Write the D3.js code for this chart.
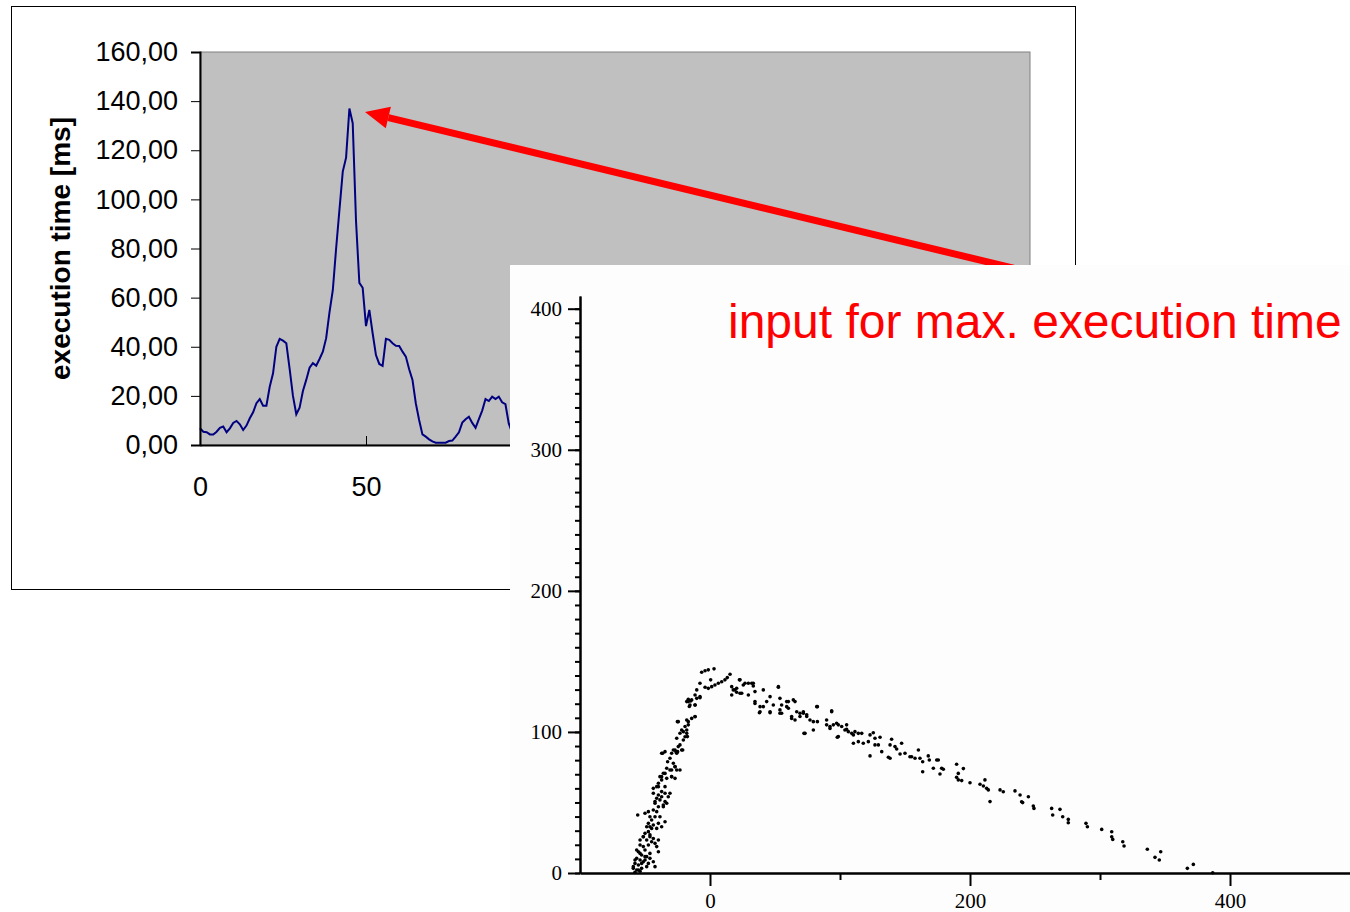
<!DOCTYPE html>
<html>
<head>
<meta charset="utf-8">
<script src="https://cdn.jsdelivr.net/npm/d3@7"></script>
<style>
  body { margin: 0; background: #fff; }
  svg { display: block; }
</style>
</head>
<body>
<div id="chart"></div>
<script>
// back chart: execution time per run (index = run number)
var execTime = [6.8, 5.4, 5.2, 4.3, 4.3, 5.4, 7, 7.5, 5.2, 6.8,
    9, 9.8, 8.4, 6.1, 7.9, 10.9, 13.3, 17, 18.7, 16,
    16, 23.7, 29.2, 40, 43.2, 42.5, 41.4, 31, 20, 12.5,
    15.2, 22, 26.5, 31.5, 33.3, 32.3, 35, 38, 43.5, 54,
    63, 80, 95.7, 111.3, 117, 137, 131, 91, 66, 64,
    48.4, 55, 45.5, 36.6, 33, 32.2, 43.2, 42.8, 41.4, 40.4,
    40.3, 38, 36, 30.8, 26.5, 17, 10.2, 4.3, 3.4, 2.3,
    1.5, 0.95, 0.95, 0.95, 0.95, 1.6, 1.8, 3.4, 5.2, 9.1,
    10.5, 11.5, 9, 7, 10.5, 14, 18.7, 17.9, 19.7, 18.7,
    19.7, 17.4, 16.6, 8.8, 5];
var timeTicks = [0, 20, 40, 60, 80, 100, 120, 140, 160];
var runTicks = [0, 50, 100, 150, 200, 250];

// scatter: [input, execution time]
var inputPoints = [
  [-26.9,87.2],[-24.9,86.0],[-29.5,84.9],[-34.6,86.0],[-37.2,84.9],[-30.8,81.3],[-32.6,78.9],[-28.2,77.8],[-26.9,75.4],[-25.6,73.0],
  [-29.5,73.0],[-33.3,74.2],[-35.9,70.7],[-38.5,68.3],[-37.2,66.0],[-33.3,67.1],[-29.5,68.3],[-26.9,67.1],[-39.7,63.6],[-41.0,61.2],
  [-43.6,60.0],[-34.6,61.2],[-37.2,57.7],[-39.7,55.3],[-41.0,53.0],[-38.5,51.8],[-34.6,50.6],[-35.9,48.2],[-42.3,49.4],[-39.7,47.0],
  [-43.6,44.7],[-41.0,43.5],[-47.4,43.5],[-50.0,42.3],[-55.6,41.1],[-46.2,39.9],[-42.3,39.9],[-44.9,37.6],[-47.4,35.2],[-39.7,35.2],
  [-48.7,32.8],[-44.9,31.6],[-47.4,29.3],[-50.0,28.1],[-46.2,27.0],[-51.3,25.7],[-48.7,23.4],[-44.9,22.2],[-42.3,21.0],[-53.8,19.9],
  [-51.3,18.7],[-47.4,19.9],[-50.0,16.3],[-55.1,15.1],[-46.2,13.9],[-52.6,12.8],[-48.7,11.6],[-56.4,10.4],[-53.8,9.2],[-51.3,8.0],
  [-47.4,6.8],[-57.7,6.8],[-55.1,5.7],[-52.6,3.3],[-59.0,3.3],[-56.4,2.1],[-53.8,1.3],[-57.7,0.5],[-50.0,9.2],
  [-6.4,142.3],[-3.8,143.4],[-1.3,144.0],[3.1,144.7],[-7.7,134.5],[0.5,136.9],[-3.8,131.7],[-1.3,130.9],[1.3,132.1],[3.8,133.3],
  [6.4,134.5],[9.0,135.6],[11.5,136.9],[13.3,138.5],[15.4,140.9],[-10.2,129.8],[-11.5,126.2],[-7.7,124.3],[-16.7,123.2],[-14.9,122.0],
  [-17.9,121.5],[-15.9,118.0],[-11.5,119.1],[-11.5,110.9],[-17.9,108.5],[-16.7,105.0],[-19.2,103.8],[-21.8,101.4],[-23.1,99.1],[-20.5,100.2],
  [-17.4,96.7],[-25.1,107.3],[-25.6,95.5],[-23.1,90.8],[-28.2,87.2],[-26.2,86.0],[-21.0,87.2],[-36.4,84.9],[16.7,132.1],[19.2,129.8],
  [16.7,126.2],[20.5,128.1],[22.6,136.9],
  [23.1,136.9],[20.5,131.0],[25.6,133.3],[29.5,134.5],[33.3,134.5],[23.1,127.4],[29.5,126.2],[34.6,128.6],[41.0,129.8],[52.6,131.7],
  [34.6,121.5],[38.5,117.9],[38.0,113.6],[43.6,121.5],[46.2,125.0],[48.7,119.1],[53.8,123.8],[55.1,119.1],[46.2,114.3],[53.8,113.2],
  [59.0,121.5],[60.3,116.8],[62.8,110.9],[65.4,121.5],[66.7,114.3],[69.2,110.9],[71.8,114.3],[74.4,110.9],[76.9,108.5],[79.5,107.3],
  [82.1,117.9],[72.3,99.0],[79.5,101.4],[89.7,108.5],[93.6,115.0],[92.3,103.8],[94.9,105.0],[98.7,105.0],[98.7,96.7],[101.3,103.8],
  [105.1,101.8],
  [26.9,134.5],[32.1,134.5],[33.3,132.6],[17.9,129.8],[24.4,127.4],[52.6,132.1],[34.6,120.2],[38.5,114.3],[41.0,117.9],[46.2,113.6],
  [53.8,115.6],[55.1,113.2],[59.0,117.9],[60.3,121.5],[64.1,122.7],[62.8,109.6],[65.4,108.5],[69.2,113.2],[71.8,113.2],[74.4,112.1],
  [82.6,107.3],[82.6,117.9],[73.1,99.0],[89.7,105.0],[92.3,102.5],[97.4,106.1],[109.0,99.0],[114.1,99.0],[93.6,114.3],[97.9,96.2],
  [105.1,105.0],[103.8,101.4],[106.4,100.2],[111.5,100.2],[110.3,97.9],[110.3,92.0],[114.1,93.1],[117.9,92.0],[121.8,93.1],[116.7,99.0],
  [123.1,97.9],[125.6,99.4],[123.1,83.0],[126.9,95.5],[126.9,90.8],[129.5,90.8],[130.8,96.2],[132.1,86.0],[137.2,82.1],[138.5,81.3],
  [138.5,90.8],[139.7,94.8],[142.3,89.6],[143.6,87.9],[146.2,84.4],[147.4,92.0],[150.0,84.9],[153.8,82.4],[155.1,82.4],[157.7,81.3],
  [160.3,87.2],[161.5,81.3],[163.6,78.9],[163.6,71.8],[167.9,83.0],[168.7,80.1],[171.8,74.2],[174.4,80.1],[175.6,80.1],[176.9,70.2],
  [178.2,74.2],[179.5,73.5],[189.7,77.1],[191.0,70.6],[189.7,67.8],[191.0,66.0],[193.6,65.5],[194.9,74.0],[200.0,64.0],[207.7,62.9],
  [210.3,61.7],[211.5,66.0],[212.8,60.0],[214.1,58.9],[215.4,50.6],[223.1,58.9],[225.6,57.6],[234.6,58.2],[238.5,55.3],[240.5,49.9],
  [239.7,50.5],[244.9,54.0],[248.7,47.5],[249.2,45.8],[262.8,45.8],[263.6,41.1],[269.2,45.1],[271.3,39.9],[275.6,38.0],[275.6,35.6],
  [289.2,35.2],[290.3,32.8],[301.3,30.9],[309.0,29.2],[309.0,25.7],[309.8,23.8],[317.5,22.2],[318.5,19.1],[336.4,16.8],[342.3,11.1],
  [345.6,9.2],[346.7,15.1],[367.2,3.3],[371.8,6.1],[386.7,0.2],
  [-53.8,23.4],[-51.3,25.7],[-46.2,25.7],[-43.6,24.5],[-39.7,23.4],[-41.0,18.7],[-39.7,15.1],[-56.4,16.3],[-53.8,13.9],[-50.0,11.6],
  [-46.2,10.4],[-43.6,8.0],[-52.6,6.8],[-48.7,4.5],[-57.7,9.2],[-59.0,4.5],[-55.1,2.1],[-42.3,4.5],[-46.2,32.8],[-43.6,34.0],
  [-41.0,31.6],[-37.2,32.8],[-34.6,36.3],[-38.5,39.9],[-35.9,47.0],[-33.3,49.4],[-32.1,54.1],[-37.2,54.1],[-34.6,56.5],[-30.8,56.5],
  [-39.7,61.2],[-43.6,56.5],[-42.3,50.6],[-37.2,68.3],[-34.6,70.6],[-30.8,73.0],[-26.9,75.3],[-23.1,73.0],[-29.5,68.3],[-25.6,84.9],
  [-21.8,87.2],[-24.4,89.6],[-20.5,94.3],[-17.9,99.0],[-16.7,107.3],[-14.1,109.6],[-11.5,110.8],[-24.4,107.3],[-17.9,101.4],[-19.2,96.6],
  [-16.7,121.5],[-14.1,122.7],[-10.2,123.8],[-15.4,119.1],[-7.7,125.0],[-11.5,119.1]
];
var inputMajorTicks = [0, 200, 400];
var inputMinorTicks = [100, 300];
var scatterMajorTicks = [0, 100, 200, 300, 400];

// arrow from the scatter panel to the peak, in back-chart units
var arrowFrom = [245, 72];
var arrowTo = [49.7, 135.6];
var noteText = "input for max. execution time";

var W = 1350, H = 912;
var svg = d3.select("#chart").append("svg")
    .attr("width", W)
    .attr("height", H);

// ----- back chart -----
var x = d3.scaleLinear().domain([0, 250]).range([200, 1030]);
var y = d3.scaleLinear().domain([0, 160]).range([445, 52]);

svg.append("rect")
    .attr("x", 11.5).attr("y", 6.5)
    .attr("width", 1064).attr("height", 583)
    .attr("fill", "#fff").attr("stroke", "#000").attr("stroke-width", 1);

svg.append("rect")
    .attr("x", x(0)).attr("y", y(160))
    .attr("width", x(250) - x(0)).attr("height", y(0) - y(160))
    .attr("fill", "#c0c0c0").attr("stroke", "#808080").attr("stroke-width", 1);

var line = d3.line()
    .x(function (d, i) { return x(i); })
    .y(function (d) { return y(d); });

svg.append("path")
    .datum(execTime)
    .attr("d", line)
    .attr("fill", "none")
    .attr("stroke", "#000080")
    .attr("stroke-width", 2);

var yAxis = svg.append("g")
    .attr("transform", "translate(" + x(0) + ",0)")
    .call(d3.axisLeft(y).tickValues(timeTicks).tickSize(9).tickPadding(13)
        .tickFormat(function (d) { return d3.format(".2f")(d).replace(".", ","); }));
yAxis.select(".domain").attr("stroke", "#000").attr("stroke-width", 2);
yAxis.selectAll(".tick line").attr("stroke", "#000");
yAxis.selectAll("text")
    .attr("font-family", "Liberation Sans, Arial, sans-serif")
    .attr("font-size", 27)
    .attr("fill", "#000");

var xAxis = svg.append("g")
    .attr("transform", "translate(0," + y(0) + ")")
    .call(d3.axisBottom(x).tickValues(runTicks).tickSizeInner(-9).tickSizeOuter(0).tickPadding(32));
xAxis.select(".domain").attr("stroke", "#000").attr("stroke-width", 2);
xAxis.selectAll(".tick line").attr("stroke", "#000");
xAxis.selectAll("text")
    .attr("font-family", "Liberation Sans, Arial, sans-serif")
    .attr("font-size", 27)
    .attr("fill", "#000");

svg.append("text")
    .attr("transform", "translate(70," + ((y(0) + y(160)) / 2) + ") rotate(-90)")
    .attr("text-anchor", "middle")
    .attr("font-family", "Liberation Sans, Arial, sans-serif")
    .attr("font-weight", "bold")
    .attr("font-size", 28)
    .text("execution time [ms]");

// ----- red arrow -----
var p0 = [x(arrowFrom[0]), y(arrowFrom[1])];
var p1 = [x(arrowTo[0]), y(arrowTo[1])];
var dx = p0[0] - p1[0], dy = p0[1] - p1[1];
var len = Math.sqrt(dx * dx + dy * dy);
var ux = dx / len, uy = dy / len;
var headL = 24, headW = 11;
var base = [p1[0] + ux * headL, p1[1] + uy * headL];

svg.append("line")
    .attr("x1", p0[0]).attr("y1", p0[1])
    .attr("x2", base[0]).attr("y2", base[1])
    .attr("stroke", "#ff0000")
    .attr("stroke-width", 7);

svg.append("polygon")
    .attr("points", [
        p1,
        [base[0] - uy * headW, base[1] + ux * headW],
        [base[0] + uy * headW, base[1] - ux * headW]
    ].map(function (p) { return p.join(","); }).join(" "))
    .attr("fill", "#ff0000");

// ----- scatter panel -----
svg.append("rect")
    .attr("x", 510).attr("y", 265)
    .attr("width", W - 510).attr("height", H - 265)
    .attr("fill", "#fdfdfd");

var sx = d3.scaleLinear().domain([-100, 492.3]).range([580, 1350]);
var sy = d3.scaleLinear().domain([0, 409]).range([873, 296]);

var syMinor = svg.append("g")
    .attr("transform", "translate(" + sx(-100) + ",0)")
    .call(d3.axisLeft(sy).tickValues(d3.range(0, 410, 10)).tickSize(5).tickSizeOuter(0).tickFormat(""));
var syMajor = svg.append("g")
    .attr("transform", "translate(" + sx(-100) + ",0)")
    .call(d3.axisLeft(sy).tickValues(scatterMajorTicks).tickSize(12).tickSizeOuter(0).tickPadding(6));
var sxMinor = svg.append("g")
    .attr("transform", "translate(0," + sy(0) + ")")
    .call(d3.axisBottom(sx).tickValues(inputMinorTicks).tickSize(7).tickSizeOuter(0).tickFormat(""));
var sxMajor = svg.append("g")
    .attr("transform", "translate(0," + sy(0) + ")")
    .call(d3.axisBottom(sx).tickValues(inputMajorTicks).tickSize(13).tickSizeOuter(0).tickPadding(7));

[syMinor, syMajor, sxMinor, sxMajor].forEach(function (g) {
    g.select(".domain").attr("stroke", "#000").attr("stroke-width", 2);
    g.selectAll(".tick line").attr("stroke", "#000").attr("stroke-width", 2);
    g.selectAll("text")
        .attr("font-family", "Liberation Serif, Times New Roman, serif")
        .attr("font-size", 21)
        .attr("fill", "#000");
});

svg.append("g")
    .selectAll("circle")
    .data(inputPoints)
    .enter()
    .append("circle")
    .attr("cx", function (d) { return sx(d[0]); })
    .attr("cy", function (d) { return sy(d[1]); })
    .attr("r", 1.8)
    .attr("fill", "#000");

svg.append("text")
    .attr("x", 728)
    .attr("y", 338)
    .attr("font-family", "Liberation Sans, Arial, sans-serif")
    .attr("font-size", 48)
    .attr("fill", "#ff0000")
    .text(noteText);
</script>
</body>
</html>
